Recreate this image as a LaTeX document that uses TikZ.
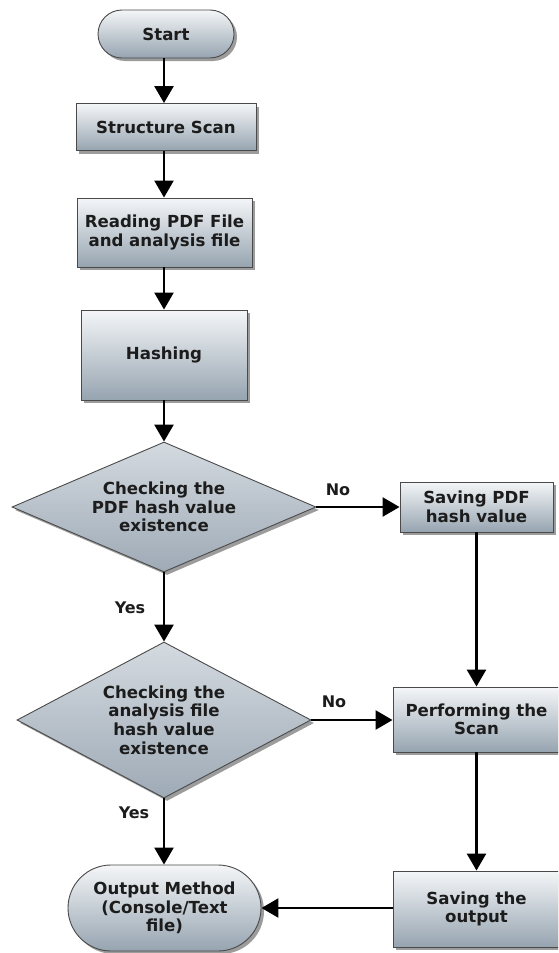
\documentclass[tikz,border=0pt]{standalone}
\usepackage{fontspec}
\setmainfont{DejaVu Sans}
\usetikzlibrary{shapes.geometric,shapes.misc,shadows,arrows.meta}
\definecolor{boxtop}{HTML}{F4F6F8}
\definecolor{boxbot}{HTML}{96A4B0}
\definecolor{diatop}{HTML}{D4DAE0}
\definecolor{diabot}{HTML}{9EAAB6}
\definecolor{edgec}{HTML}{4A4A4A}
\definecolor{txt}{HTML}{1C1C1C}
\tikzset{
  base/.style={draw=edgec, line width=0.9pt, top color=boxtop, bottom color=boxbot,
    text=txt, align=center, inner sep=2pt,
    font=\fontsize{16.6}{18.6}\selectfont\bfseries,
    drop shadow={shadow xshift=3pt, shadow yshift=-3pt, fill=black!70, opacity=0.55}},
  procbox/.style={base, rectangle},
  termbox/.style={base, rounded rectangle},
  decbox/.style={base, diamond, top color=diatop, bottom color=diabot, inner sep=0pt},
  conn/.style={draw=black, line width=2.6pt, -{Triangle[length=17pt,width=19pt]}},
  lbl/.style={text=txt, font=\fontsize{16}{18}\selectfont\bfseries}
}
\begin{document}
\begin{tikzpicture}[x=1pt,y=-1pt]
\useasboundingbox (0,0) rectangle (558,953);
\fill[white] (0,0) rectangle (558,953);
\begin{scope}
\clip (0,0) rectangle (558,953);
\node[termbox, minimum width=140pt, minimum height=48pt] (start) at (166,34) {Start};
\node[procbox, minimum width=180pt, minimum height=47pt] (scan) at (166,127) {Structure Scan};
\node[procbox, minimum width=175pt, minimum height=69pt] (read) at (164.5,232.5) {Reading PDF File\\and analysis file};
\node[procbox, minimum width=166pt, minimum height=90pt] (hash) at (164,355) {Hashing};
\node[decbox, shape aspect=2.34, minimum width=304pt, minimum height=130pt] (d1) at (164,507) {Checking the\\PDF hash value\\existence};
\node[procbox, minimum width=153pt, minimum height=50pt] (savepdf) at (476.5,507) {Saving PDF\\hash value};
\node[decbox, shape aspect=1.88, minimum width=294pt, minimum height=156pt] (d2) at (164,720) {Checking the\\analysis file\\hash value\\existence};
\node[procbox, minimum width=167pt, minimum height=65pt] (perform) at (476.5,719.5) {Performing the\\Scan};
\node[termbox, minimum width=197pt, minimum height=86pt] (output) at (164.5,908) {Output Method\\(Console/Text\\file)};
\node[procbox, minimum width=167pt, minimum height=76pt] (saveout) at (476.5,909) {Saving the\\output};
\end{scope}

\draw[conn] (start.south -| d1.north) -- (scan.north -| d1.north);
\draw[conn] (scan.south -| d1.north) -- (read.north -| d1.north);
\draw[conn] (read.south -| d1.north) -- (hash.north -| d1.north);
\draw[conn] (hash.south -| d1.north) -- (d1.north);
\draw[conn] (d1.south) -- (d2.north);
\draw[conn] (d1.east) -- (savepdf.west);
\draw[conn] (savepdf) -- (perform);
\draw[conn] (d2.east) -- (perform.west |- d2.east);
\draw[conn] (d2.south) -- (output.north -| d2.south);
\draw[conn] (perform) -- (saveout);
\draw[conn] (saveout.west |- output.east) -- (output.east);

\node[lbl] (no1) at (338,490) {No};
\node[lbl] (yes1) at (130,608) {Yes};
\node[lbl] (no2) at (334,702) {No};
\node[lbl] (yes2) at (134,813) {Yes};
\end{tikzpicture}
\end{document}
